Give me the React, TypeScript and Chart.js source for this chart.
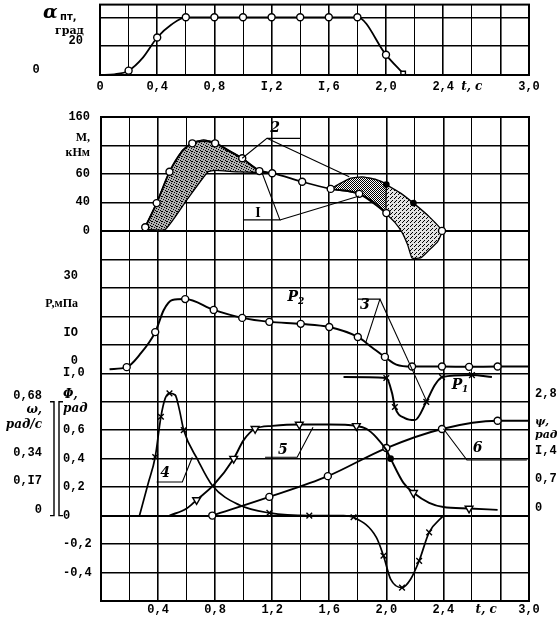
import React, { useEffect, useRef } from 'react';
import { Chart, registerables } from 'chart.js';

Chart.register(...registerables);

// ================= DATA =================
// Top panel: α_пт, град vs t, c
const alphaT = [0, 0.1, 0.2, 0.3, 0.4, 0.5, 0.6, 0.8, 1.0, 1.2, 1.4, 1.6, 1.8, 2.0, 2.12];
const alphaV = [0, 0.5, 3, 12, 26, 35, 40, 40, 40, 40, 40, 40, 40, 14, 1];
const alphaMk = ['', '', 'o', '', 'o', '', 'o', 'o', 'o', 'o', 'o', 'o', 'o', 'o', 's'];

// M, кНм — curve I (circles)
const mT = [0.31, 0.39, 0.48, 0.57, 0.64, 0.72, 0.80, 0.90, 0.99, 1.11, 1.20, 1.41, 1.61, 1.81, 2.00];
const mV = [5, 39, 83, 112, 123, 126, 123, 112, 102, 84, 81, 69, 59, 52, 25];
const mMk = ['o', 'o', 'o', '', 'o', '', 'o', '', 'o', 'o', 'o', 'o', 'o', 'o', 'o'];

// M — band 2 (scatter zone), first part
const band1T = [0.30, 0.39, 0.48, 0.57, 0.64, 0.72, 0.80, 0.90, 0.99, 1.11, 1.20, 1.10, 0.95, 0.80, 0.75, 0.60, 0.45, 0.30];
const band1V = [2, 39, 83, 113, 124, 128, 124, 113, 102, 85, 81, 82, 83, 85, 83, 43, 2, 2];
// M — band 2, second part (dark / light)
const band2aT = [1.61, 1.68, 1.75, 1.83, 1.93, 2.00, 2.00, 1.93, 1.87, 1.81, 1.72, 1.61];
const band2aV = [59, 67, 74, 76, 72, 65, 25, 38, 46, 52, 56, 59];
const band2bT = [2.00, 2.10, 2.19, 2.30, 2.39, 2.36, 2.30, 2.24, 2.18, 2.15, 2.11, 2.06, 2.00, 2.00];
const band2bV = [65, 53, 39, 20, 0, -15, -27, -38, -38, -20, -2, 12, 25, 65];
const band2bMk = ['*', '', '*', '', 'o', '', '', '', '', '', '', '', '', ''];

// P, МПа — P2 and P1
const p2T = [0.06, 0.18, 0.27, 0.38, 0.44, 0.50, 0.59, 0.79, 0.99, 1.18, 1.40, 1.60, 1.80, 1.90, 1.99, 2.07, 2.18, 2.39, 2.58, 2.78, 3.00];
const p2V = [-1.1, -0.4, 3.9, 11.9, 19.7, 23.2, 23.5, 19.7, 16.9, 15.5, 14.8, 13.7, 10.2, 6.5, 3.2, 0.5, -0.2, -0.2, -0.3, -0.2, -0.2];
const p2Mk = ['', 'o', '', 'o', '', '', 'o', 'o', 'o', 'o', 'o', 'o', 'o', '', 'o', '', 'o', 'o', 'o', 'o', ''];
const p1T = [1.70, 2.00, 2.04, 2.06, 2.13, 2.20, 2.28, 2.34, 2.39, 2.60, 2.74];
const p1V = [-3.9, -4.2, -9.5, -14.4, -18.3, -19.0, -12.6, -6.7, -3.9, -3.2, -3.9];
const p1Mk = ['', 'x', '', 'x', '', '', 'x', '', 'x', 'x', ''];

// ω, рад/с — curve 4
const wT = [0.27, 0.33, 0.38, 0.42, 0.45, 0.48, 0.52, 0.55, 0.58, 0.68, 0.78, 0.97, 1.18, 1.46, 1.70, 1.77, 1.93, 1.98, 2.03, 2.11, 2.17, 2.23, 2.30, 2.40];
const wV = [0, 0.19, 0.35, 0.59, 0.70, 0.73, 0.72, 0.63, 0.51, 0.33, 0.18, 0.063, 0.016, 0, 0, -0.01, -0.13, -0.24, -0.38, -0.43, -0.38, -0.27, -0.10, 0];
const wMk = ['', '', 'x', 'x', '', 'x', '', '', 'x', '', '', '', 'x', 'x', '', 'x', '', 'x', '', 'x', '', 'x', 'x', ''];

// Φ, рад — curve 5
const phiT = [0.48, 0.60, 0.67, 0.79, 0.93, 1.00, 1.08, 1.20, 1.39, 1.60, 1.79, 1.86, 1.93, 2.00, 2.03, 2.12, 2.19, 2.30, 2.40, 2.58, 2.78];
const phiV = [0, 0.05, 0.11, 0.215, 0.40, 0.53, 0.61, 0.63, 0.64, 0.64, 0.63, 0.61, 0.55, 0.46, 0.40, 0.23, 0.16, 0.09, 0.06, 0.05, 0.04];
const phiMk = ['', '', 'v', '', 'v', '', 'v', '', 'v', '', 'v', '', '', '', '*', '', 'v', '', '', 'v', ''];

// ψ, рад — curve 6
const psiT = [0.78, 1.18, 1.59, 2.00, 2.39, 2.78, 3.00];
const psiV = [0, 0.46, 0.97, 1.66, 2.13, 2.33, 2.33];
const psiMk = ['o', 'o', 'o', 'o', 'o', 'o', ''];

// Axis ticks / labels
const xGrid = [0, 0.2, 0.4, 0.6, 0.8, 1.0, 1.2, 1.4, 1.6, 1.8, 2.0, 2.2, 2.4, 2.6, 2.8, 3.0];
const topXTickVals = [0, 0.4, 0.8, 1.2, 1.6, 2.0, 2.4, 2.6, 3.0];
const topXTickText = ['0', '0,4', '0,8', 'I,2', 'I,6', '2,0', '2,4', 't, c', '3,0'];
const topYTickVals = [0, 20, 40];
const topYTickText = ['0      ', '20', ''];
const botXTickVals = [0.4, 0.8, 1.2, 1.6, 2.0, 2.4, 2.7, 3.0];
const botXTickText = ['0,4', '0,8', '1,2', '1,6', '2,0', '2,4', 't, c', '3,0'];
const mTickVals = [0, 40, 80, 120, 160];
const mTickText: any[] = ['0', '40', '60', ['M,', 'кНм'], '160'];
const pTickVals = [0, 10, 20, 30];
const pTickText: any[] = ['0', 'IO', ['P,мПа'], '30'];
const phiTickVals = [-0.4, -0.2, 0, 0.2, 0.4, 0.6, 0.8, 1.0];
const phiTickText: any[] = ['-0,4', '-0,2', '0', '0,2', '0,4', '0,6', ['Φ,', 'рад'], 'I,0'];
const wTickVals = [0, 0.17, 0.34, 0.55, 0.68];
const wTickText: any[] = ['0', '0,I7', '0,34', ['ω,', 'рад/с'], '0,68'];
const psiTickVals = [0, 0.7, 1.4, 1.95, 2.8];
const psiTickText: any[] = ['0', '0,7', 'I,4', ['ψ,', 'рад'], '2,8'];

// Annotations (data units)
const noteText = ['2', 'I', 'P', '3', 'P', '4', '5', '6'];
const noteSub = ['', '', '2', '', '1', '', '', ''];
const noteAxis = ['yM', 'yM', 'yP', 'yP', 'yP', 'yPhi', 'yPhi', 'yPhi'];
const noteT = [1.22, 1.10, 1.345, 1.85, 2.495, 0.45, 1.275, 2.64];
const noteV = [144, 24, 24.2, 21.3, -6.7, 0.30, 0.46, 0.475];
const leaderAxis = ['yM', 'yM', 'yM', 'yM', 'yP', 'yP', 'yPhi', 'yPhi', 'yPhi'];
const leaderPts = [
  [[1.395, 130], [1.163, 130], [0.99, 102]],
  [[1.163, 130], [1.74, 76]],
  [[0.995, 15.4], [1.254, 15.4], [1.13, 81]],
  [[1.254, 15.4], [1.81, 49]],
  [[1.80, 23.5], [1.955, 23.5], [1.857, 8.4]],
  [[1.955, 23.5], [2.285, -12.6]],
  [[0.39, 0.236], [0.57, 0.236], [0.64, 0.41]],
  [[1.15, 0.41], [1.375, 0.41], [1.486, 0.62]],
  [[2.985, 0.39], [2.565, 0.39], [2.40, 0.61]],
];

// ================= HELPERS =================
const series = (ts: number[], vs: number[], mk?: string[]) =>
  ts.map((t, i) => ({ x: t, y: vs[i], m: mk ? mk[i] : '' }));

const MARK_STYLE: Record<string, string> = { o: 'circle', '*': 'circle', x: 'crossRot', v: 'triangle', s: 'rect' };
const MARK_SIZE: Record<string, number> = { o: 3.5, '*': 2.6, x: 4, v: 4.5, s: 3.2 };

const markerOpts = {
  pointStyle: (c: any) => MARK_STYLE[c.raw?.m] || 'circle',
  pointRadius: (c: any) => MARK_SIZE[c.raw?.m] || 0,
  pointRotation: (c: any) => (c.raw?.m === 'v' ? 180 : 0),
  pointBackgroundColor: (c: any) => (c.raw?.m === '*' ? '#000' : '#fff'),
  pointBorderColor: '#000',
  pointBorderWidth: 1.4,
  pointHoverRadius: 0,
  pointHitRadius: 0,
};

const curve = (data: any[], yAxisID: string, width = 1.8) => ({
  type: 'line', data, yAxisID, xAxisID: 'x', borderColor: '#000', borderWidth: width,
  fill: false, cubicInterpolationMode: 'monotone', ...markerOpts,
});
const shape = (data: any[], yAxisID: string, bg: any) => ({
  type: 'line', data, yAxisID, xAxisID: 'x', borderColor: '#000', borderWidth: 1.3,
  fill: 'shape', backgroundColor: bg, tension: 0.15, ...markerOpts,
});

const numFont = { family: '"Liberation Mono", "DejaVu Sans Mono", monospace', size: 12, weight: 'bold' };
const italFont = { family: '"DejaVu Serif", serif', size: 12, style: 'italic', weight: 'bold' };
const italSmall = { family: '"DejaVu Serif", serif', size: 11, style: 'italic', weight: 'bold' };
const upFont = { family: '"Liberation Serif", serif', size: 12, weight: 'bold' };
const pickFont = (tf: any) => (c: any) => {
  const l = c.tick?.label;
  return Array.isArray(l) || (typeof l === 'string' && l.startsWith('t')) ? tf : numFont;
};
const labelFor = (vals: number[], texts: any[]) => (v: any) => {
  const i = vals.findIndex((a) => Math.abs(a - Number(v)) < 1e-6);
  return i < 0 ? '' : texts[i];
};
const fix = (w?: number, h?: number) => (s: any) => {
  if (w !== undefined) s.width = w;
  if (h !== undefined) s.height = h;
  s.paddingLeft = 0; s.paddingRight = 0; s.paddingTop = 0; s.paddingBottom = 0;
};
const onStep = (v: number, step: number) => Math.abs(v / step - Math.round(v / step)) < 1e-6;
const xGridColor = (c: any) => (onStep(c.tick.value, 0.2) ? '#000' : 'rgba(0,0,0,0)');
const xGridWidth = (c: any) => (onStep(c.tick.value, 0.4) ? 1.6 : 1.0);

function makePattern(size: number, bg: string, dots: number[][]) {
  const c = document.createElement('canvas');
  c.width = size; c.height = size;
  const g = c.getContext('2d')!;
  g.fillStyle = bg; g.fillRect(0, 0, size, size);
  g.fillStyle = '#000';
  dots.forEach(([x, y]) => g.fillRect(x, y, 1, 1));
  return g.createPattern(c, 'repeat');
}

const sideAxis = (position: string, min: number, max: number, vals: number[], texts: any[], o: any) => ({
  type: 'linear', position, min, max,
  afterBuildTicks: (s: any) => { s.ticks = vals.map((v) => ({ value: v })); },
  ticks: {
    autoSkip: false, color: '#000', padding: o.padding ?? 2, labelOffset: o.offset ?? 0,
    crossAlign: o.cross ?? 'near', font: pickFont(o.tf ?? italFont), callback: labelFor(vals, texts),
  },
  grid: { display: false, drawTicks: false },
  border: { display: false },
  afterFit: fix(o.width ?? 0),
});

// ================= PLUGINS =================
const topDeco = {
  id: 'topDeco',
  afterDraw(chart: any) {
    const ctx = chart.ctx; const a = chart.chartArea;
    ctx.save();
    ctx.strokeStyle = '#000'; ctx.lineWidth = 2;
    ctx.strokeRect(a.left, a.top, a.right - a.left, a.bottom - a.top);
    ctx.fillStyle = '#000'; ctx.textAlign = 'left'; ctx.textBaseline = 'alphabetic';
    ctx.font = 'italic bold 19px "DejaVu Serif"'; ctx.fillText('α', 43, 18);
    ctx.font = 'bold 10px "DejaVu Sans"'; ctx.fillText('пт,', 60, 20);
    ctx.font = 'bold 11px "DejaVu Serif"'; ctx.fillText('град', 55, 34);
    ctx.restore();
  },
};

const placeAxes = {
  id: 'placeAxes',
  afterLayout(chart: any) {
    const put = (id: string, l: number, r: number) => {
      const s = chart.scales[id]; s.left = l; s.right = r; s.width = r - l;
    };
    put('yOmega', 0, 44);
    put('yP', 0, 80);
    put('yPhi', 63, 92);
  },
};

const lowerDeco = {
  id: 'lowerDeco',
  afterDatasetsDraw(chart: any) {
    const ctx = chart.ctx; const xs = chart.scales.x;
    ctx.save();
    ctx.strokeStyle = '#000'; ctx.lineWidth = 1.1;
    leaderPts.forEach((pts, k) => {
      const ys = chart.scales[leaderAxis[k]];
      ctx.beginPath();
      pts.forEach(([t, v], i) => {
        const px = xs.getPixelForValue(t); const py = ys.getPixelForValue(v);
        if (i) ctx.lineTo(px, py); else ctx.moveTo(px, py);
      });
      ctx.stroke();
    });
    ctx.fillStyle = '#000'; ctx.textAlign = 'center'; ctx.textBaseline = 'middle';
    noteText.forEach((txt, k) => {
      const ys = chart.scales[noteAxis[k]];
      const px = xs.getPixelForValue(noteT[k]); const py = ys.getPixelForValue(noteV[k]);
      ctx.font = txt === 'I' ? 'bold 14px "Liberation Serif"' : 'italic bold 14px "DejaVu Serif"';
      ctx.fillText(txt, px, py);
      if (noteSub[k]) {
        const w = ctx.measureText(txt).width;
        ctx.font = 'italic bold 9px "DejaVu Serif"';
        ctx.fillText(noteSub[k], px + w / 2 + 3, py + 5);
      }
    });
    // brackets joining ω and Φ scales
    const yw = chart.scales.yOmega;
    const top = yw.getPixelForValue(0.68); const bot = yw.getPixelForValue(0);
    ctx.lineWidth = 1.4;
    ctx.beginPath();
    ctx.moveTo(50, top); ctx.lineTo(54, top); ctx.lineTo(54, bot); ctx.lineTo(50, bot);
    ctx.moveTo(63, top); ctx.lineTo(59, top); ctx.lineTo(59, bot); ctx.lineTo(63, bot);
    ctx.stroke();
    // frame
    const a = chart.chartArea;
    ctx.lineWidth = 2;
    ctx.strokeRect(a.left, a.top, a.right - a.left, a.bottom - a.top);
    ctx.restore();
  },
};

// ================= CONFIGS =================
function topConfig(): any {
  return {
    type: 'line',
    data: { datasets: [curve(series(alphaT, alphaV, alphaMk), 'y', 1.8)] },
    options: {
      animation: false, responsive: false, devicePixelRatio: 1, events: [],
      layout: { padding: { top: 3, right: 28, left: 0, bottom: 0 } },
      plugins: { legend: { display: false }, tooltip: { enabled: false } },
      scales: {
        x: {
          type: 'linear', min: 0, max: 3,
          afterBuildTicks: (s: any) => { s.ticks = xGrid.map((v) => ({ value: v })); },
          ticks: { autoSkip: false, maxRotation: 0, padding: 5, color: '#000', font: pickFont(italFont), callback: labelFor(topXTickVals, topXTickText) },
          grid: { color: xGridColor, lineWidth: xGridWidth, drawTicks: false },
          border: { display: false },
          afterFit: fix(undefined, 25),
        },
        y: {
          type: 'linear', min: 0, max: 48.8,
          afterBuildTicks: (s: any) => { s.ticks = topYTickVals.map((v) => ({ value: v })); },
          ticks: { autoSkip: false, padding: 17, labelOffset: -5, color: '#000', font: numFont, callback: labelFor(topYTickVals, topYTickText) },
          grid: { color: '#000', lineWidth: 1.5, drawTicks: false },
          border: { display: false },
          afterFit: fix(100),
        },
      },
    },
    plugins: [topDeco],
  };
}

function lowerConfig(): any {
  const stipple = makePattern(5, '#b0b0b0', [[0, 0], [2, 1], [4, 2], [1, 3], [3, 4], [1, 1]]);
  const hatch = makePattern(2, '#ffffff', [[0, 0], [1, 1]]);
  const light = makePattern(4, '#e2e2e2', [[0, 0], [2, 2], [3, 1]]);
  const mRows: number[] = [];
  for (let v = -520; v <= 160; v += 40) mRows.push(v);
  const xTicks = Array.from(new Set([...xGrid, ...botXTickVals])).sort((a, b) => a - b);
  return {
    type: 'line',
    data: {
      datasets: [
        curve(series(p2T, p2V, p2Mk), 'yP', 2),
        curve(series(p1T, p1V, p1Mk), 'yP', 2),
        curve(series(mT, mV, mMk), 'yM', 1.8),
        curve(series(wT, wV, wMk), 'yOmega', 1.7),
        curve(series(phiT, phiV, phiMk), 'yPhi', 1.9),
        curve(series(psiT, psiV, psiMk), 'yPsi', 1.9),
        shape(series(band2bT, band2bV, band2bMk), 'yM', light),
        shape(series(band2aT, band2aV), 'yM', hatch),
        shape(series(band1T, band1V), 'yM', stipple),
      ],
    },
    options: {
      animation: false, responsive: false, devicePixelRatio: 1, events: [],
      layout: { padding: { top: 17, right: 0, left: 0, bottom: 0 } },
      plugins: { legend: { display: false }, tooltip: { enabled: false } },
      scales: {
        x: {
          type: 'linear', min: 0, max: 3,
          afterBuildTicks: (s: any) => { s.ticks = xTicks.map((v) => ({ value: v })); },
          ticks: { autoSkip: false, maxRotation: 0, padding: 2, color: '#000', font: pickFont(italFont), callback: labelFor(botXTickVals, botXTickText) },
          grid: { color: xGridColor, lineWidth: xGridWidth, drawTicks: false },
          border: { display: false },
          afterFit: fix(undefined, 16),
        },
        yM: {
          type: 'linear', position: 'left', min: -520, max: 160, weight: 0,
          afterBuildTicks: (s: any) => { s.ticks = mRows.map((v) => ({ value: v })); },
          ticks: { autoSkip: false, padding: 11, color: '#000', font: pickFont(upFont), callback: labelFor(mTickVals, mTickText) },
          grid: { color: '#000', lineWidth: (c: any) => (c.tick.value === 0 || c.tick.value === -400 ? 2 : 1.4), drawTicks: false },
          border: { display: false },
          afterFit: fix(101),
        },
        yP: { ...sideAxis('left', -82.54, 87.46, pTickVals, pTickText, { offset: -5, tf: upFont }), weight: 1 },
        yPhi: { ...sideAxis('left', -0.6, 2.8, phiTickVals, phiTickText, { offset: 0, cross: 'far' }), weight: 2 },
        yOmega: { ...sideAxis('left', -0.51, 2.38, wTickVals, wTickText, { offset: -6 }), weight: 3 },
        yPsi: sideAxis('right', -2.1, 9.8, psiTickVals, psiTickText, { offset: -8, padding: 6, width: 28, tf: italSmall }),
      },
    },
    plugins: [placeAxes, lowerDeco],
  };
}

export default function App() {
  const topRef = useRef<HTMLCanvasElement>(null);
  const lowRef = useRef<HTMLCanvasElement>(null);
  useEffect(() => {
    const c1 = new Chart(topRef.current as HTMLCanvasElement, topConfig());
    const c2 = new Chart(lowRef.current as HTMLCanvasElement, lowerConfig());
    return () => { c1.destroy(); c2.destroy(); };
  }, []);
  return (
    <div style={{ position: 'absolute', left: 0, top: 0, width: 557, height: 617, background: '#fff' }}>
      <canvas ref={topRef} width={557} height={100} style={{ position: 'absolute', left: 0, top: 0 }} />
      <canvas ref={lowRef} width={557} height={517} style={{ position: 'absolute', left: 0, top: 100 }} />
    </div>
  );
}
